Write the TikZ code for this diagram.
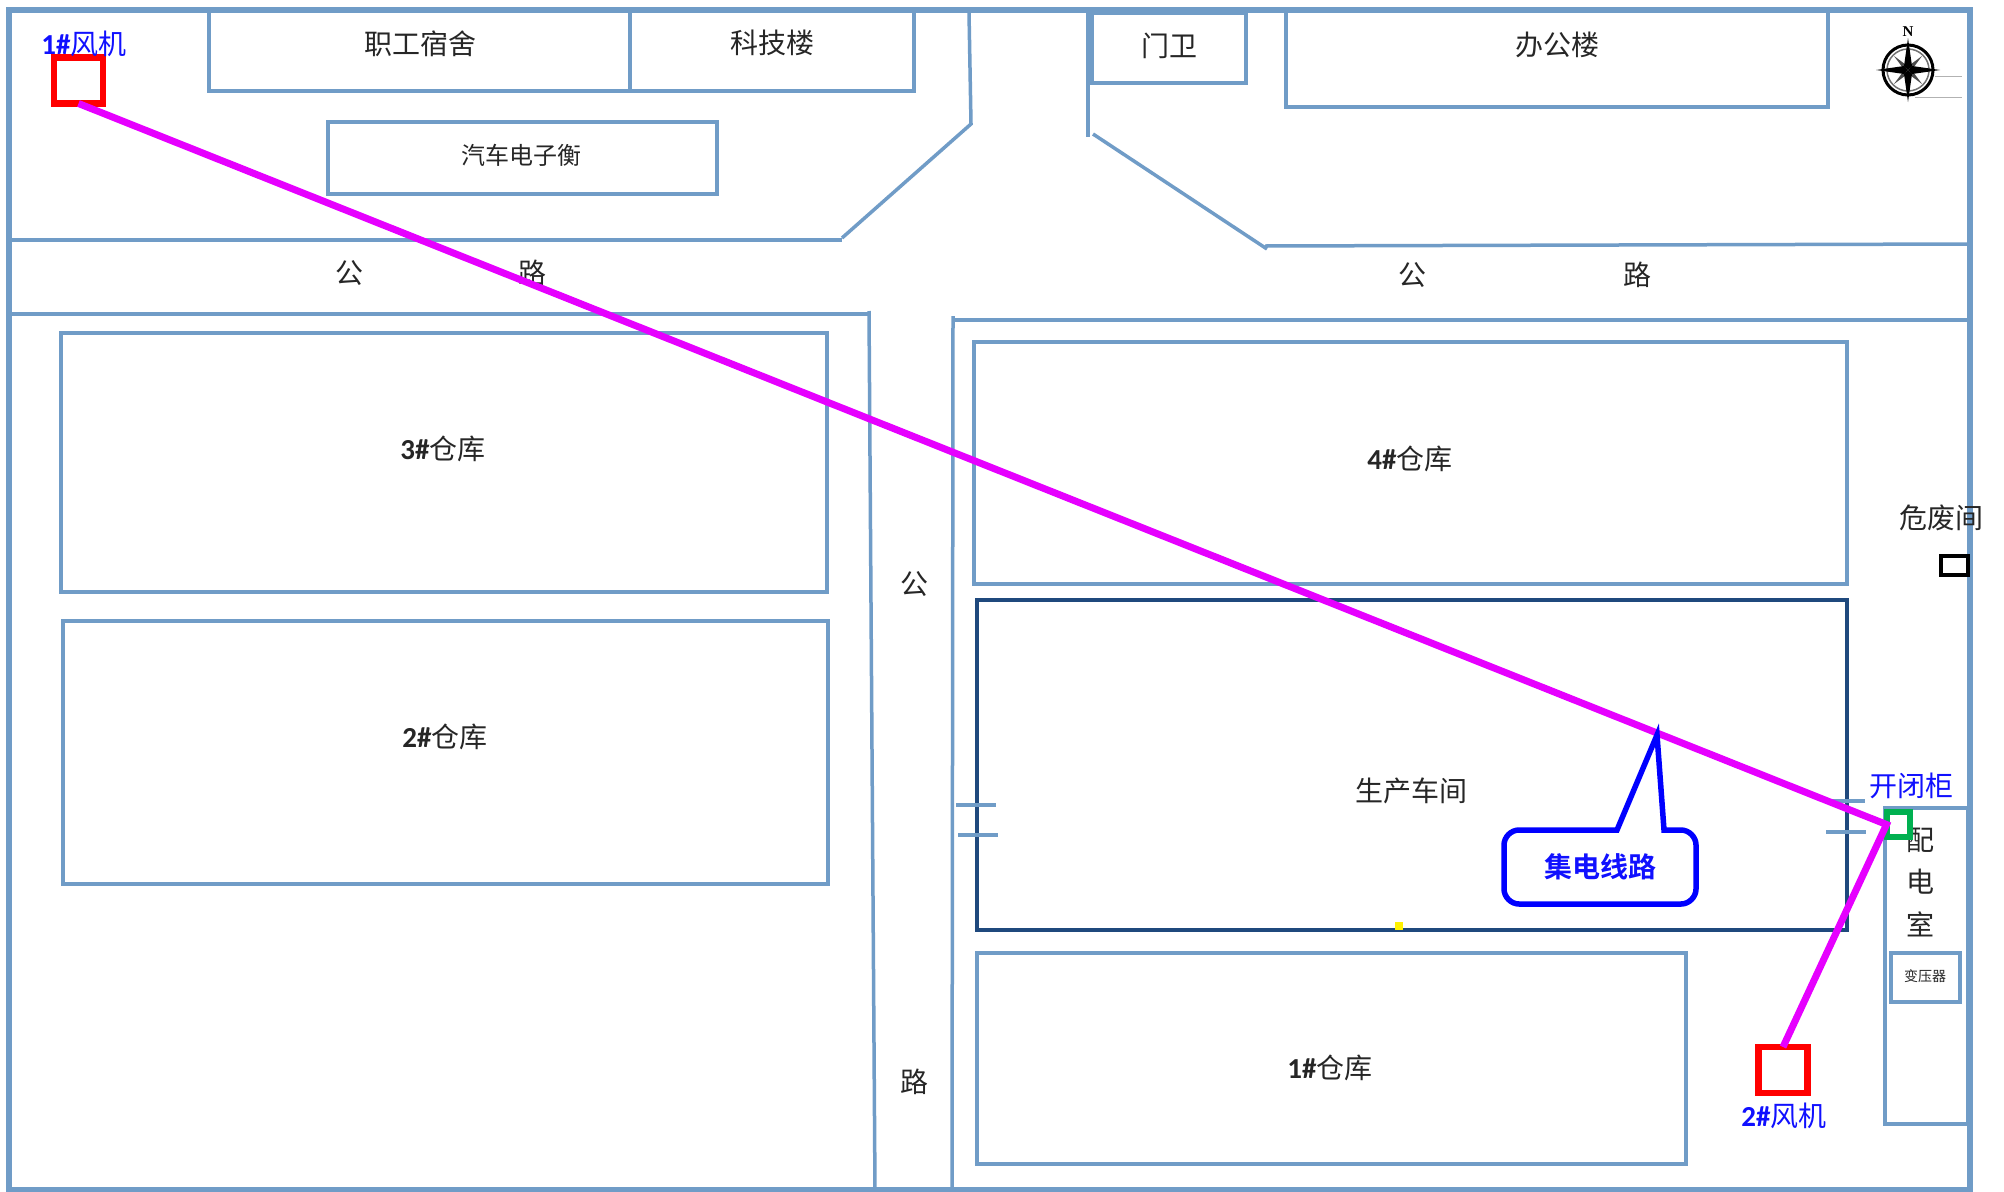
\documentclass[tikz,border=0pt]{standalone}
\usepackage{fontspec}
\setmainfont{Noto Sans CJK SC}
\newfontfamily\latinb{Carlito}[BoldFont={Carlito Bold}]
\newfontfamily\serifb{Liberation Serif}[BoldFont={Liberation Serif Bold}]
\newfontfamily\cjkb{Noto Sans CJK SC}[BoldFont={Noto Sans CJK SC Bold}]
\definecolor{road}{HTML}{709CC7}
\definecolor{dkblue}{HTML}{1F497D}
\definecolor{wire}{HTML}{E600FF}
\definecolor{lblue}{HTML}{1010FF}
\definecolor{kgreen}{RGB}{0,176,80}
\newcommand{\fs}[1]{\fontsize{#1}{#1}\selectfont}
\newcommand{\num}[1]{{\latinb\bfseries\fontsize{29}{29}\selectfont #1}}
\tikzset{
  x=1pt,y=-1pt,
  roadline/.style={draw=road,line width=3.5pt},
  bldg/.style={draw=road,line width=4pt,fill=white},
  frame/.style={draw=road,line width=6.5pt},
  lab/.style={inner sep=0pt,outer sep=0pt,text=black!85,font=\fs{28}},
  smalllab/.style={lab,font=\fs{24}},
  bluelab/.style={lab,text=lblue,font=\fs{28}},
  fanbox/.style={draw=red,line width=6.5pt,fill=white,inner sep=0pt,outer sep=0pt,minimum width=49pt,minimum height=46pt},
  kbgbox/.style={draw=kgreen,line width=6pt,fill=white,inner sep=0pt,outer sep=0pt,minimum width=23pt,minimum height=25pt},
  wireline/.style={draw=wire,line width=7pt,line join=miter},
  callout/.style={draw=blue,line width=5.5pt,fill=white,line join=miter}
}
\begin{document}
\begin{tikzpicture}
\useasboundingbox[fill=white] (0,0) rectangle (2004,1191);
% roads
\draw[roadline] (9,240) -- (842,240);
\draw[roadline] (842,238) -- (971,124) -- (969,13);
\draw[roadline] (1088,13) -- (1088,137);
\draw[roadline] (1093,134) -- (1267,249);
\draw[roadline] (1265,246) -- (1970,244);
\draw[roadline] (7,314) -- (870,314);
\draw[roadline] (869,311) -- (875,1191);
\draw[roadline] (953,316) -- (952,1191);
\draw[roadline] (955,320) -- (1970,320);
% top buildings
\draw[bldg] (209,10) rectangle (630,91);
\draw[bldg] (630,10) rectangle (914,91);
\draw[bldg] (1092,13) rectangle (1246,83);
\draw[bldg] (1286,10) rectangle (1828,107);
\draw[bldg] (328,122) rectangle (717,194);
% warehouses
\draw[bldg] (61,333) rectangle (827,592);
\draw[bldg] (63,621) rectangle (828,884);
\draw[bldg] (974,342) rectangle (1847,584);
\draw[bldg,draw=dkblue] (977,600) rectangle (1847,930);
\draw[bldg] (977,953) rectangle (1686,1164);
% doors
\draw[roadline] (956,805) -- (996,805);
\draw[roadline] (958,835) -- (998,835);
\draw[roadline] (1830,801) -- (1865,801);
\draw[roadline] (1826,832) -- (1866,832);
% substation
\draw[bldg] (1885,808) rectangle (1968,1124);
\draw[bldg] (1891,953) rectangle (1960,1002);
% outer frame
\draw[frame] (9,1190) -- (9,10) -- (1970,10) -- (1970,1190) -- cycle;
% hazard box
\draw[black,line width=3.5pt] (1941,556) rectangle (1968,575);
% yellow dot
\fill[yellow] (1395,922) rectangle (1403,930);
% labels
\node[lab] (t1) at (420,44) {职工宿舍};
\node[lab] (t2) at (772,43) {科技楼};
\node[lab] (t3) at (1169,46) {门卫};
\node[lab] (t4) at (1557,45) {办公楼};
\node[smalllab] (t5) at (521,155) {汽车电子衡};
\node[lab] (r1) at (349,273) {公};
\node[lab] (r2) at (532,273) {路};
\node[lab] (r3) at (1412,275) {公};
\node[lab] (r4) at (1637,275) {路};
\node[lab] (r5) at (914,584) {公};
\node[lab] (r6) at (914,1082) {路};
\node[lab] (w3) at (443,449) {\num{3\#}仓库};
\node[lab] (w2) at (445,737) {\num{2\#}仓库};
\node[lab] (w4) at (1410,459) {\num{4\#}仓库};
\node[lab] (w1) at (1330,1068) {\num{1\#}仓库};
\node[lab] (w0) at (1411,791) {生产车间};
\node[lab] (hz) at (1941,518) {危废间};
\node[lab] (p1) at (1920,840) {配};
\node[lab] (p2) at (1920,882) {电};
\node[lab] (p3) at (1920,924) {室};
\node[lab,font=\fs{14}] (tr) at (1925,976) {变压器};
% equipment
\node[kbgbox] (kbg) at (1898,824.5) {};
\node[fanbox] (fan1) at (78.5,80.5) {};
\node[fanbox] (fan2) at (1783,1070) {};
\draw[wireline] (fan1.south) -- (kbg.west) -- (fan2.north);
% callout
\draw[callout]
  (1617,830) -- (1657,735) -- (1664,830) -- (1681,830)
  .. controls (1689,830) and (1696,837) .. (1696,845) -- (1696,889)
  .. controls (1696,897) and (1689,904) .. (1681,904) -- (1519,904)
  .. controls (1511,904) and (1504,897) .. (1504,889) -- (1504,845)
  .. controls (1504,837) and (1511,830) .. (1519,830) -- cycle;
\node[bluelab,font=\fs{28}\cjkb\bfseries] (cl) at (1600,867) {集电线路};
\node[bluelab] (l1) at (84,44) {\num{1\#}风机};
\node[bluelab] (l2) at (1784,1116) {\num{2\#}风机};
\node[bluelab] (l3) at (1911,786) {开闭柜};
% compass
\draw[black!30,line width=1pt] (1935,76) -- (1962,76);
\draw[black!30,line width=1pt] (1915,97) -- (1962,97);
\draw[black,line width=3pt] (1908,70) circle[radius=25];
\draw[black!55,line width=1.5pt] (1908,70) circle[radius=21];
\foreach \a in {45,135,225,315}{
  \fill[black!70,rotate around={\a:(1908,70)}] (1908,50) -- (1910.5,67) -- (1905.5,67) -- cycle;
}
\foreach \a in {0,90,180,270}{
  \fill[black,rotate around={\a:(1908,70)}] (1908,38) -- (1912,66) -- (1908,70) -- (1904,66) -- cycle;
}
\node[inner sep=0pt,outer sep=0pt,text=black,font=\fs{15}\serifb\bfseries] (north) at (1908,32) {N};
\end{tikzpicture}
\end{document}
